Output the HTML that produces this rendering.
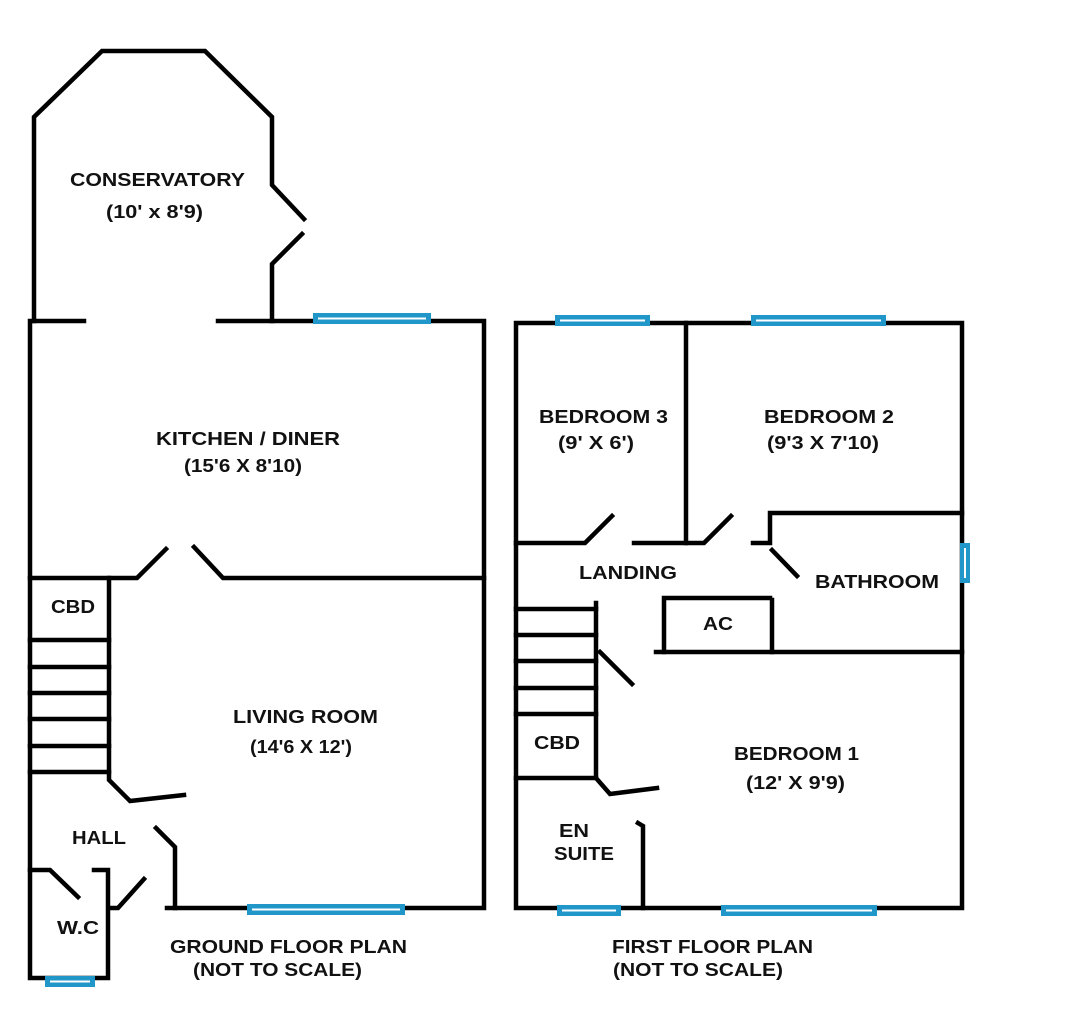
<!DOCTYPE html>
<html><head><meta charset="utf-8"><style>
html,body{margin:0;padding:0;background:#fff;}
svg{display:block}
text{font-family:"Liberation Sans",sans-serif;font-weight:bold;font-size:18px;fill:#111;}
</style></head><body>
<svg width="1090" height="1017" viewBox="0 0 1090 1017" xmlns="http://www.w3.org/2000/svg">
<g fill="none" stroke="#000" stroke-width="4.5" stroke-linecap="square" stroke-linejoin="miter">
<polyline points="34,321 34,117 102,51 205,51 272,117 272,185 304,219"/>
<polyline points="302,234 272,264 272,321"/>
<polyline points="84,321 30,321 30,978 108,978 108,870 94,870"/>
<polyline points="218,321 484,321 484,908 167,908"/>
<polyline points="30,578 137,578 166,549"/>
<polyline points="194,547 223,578 484,578"/>
<polyline points="109,578 109,780 130,801 184,795"/>
<line x1="30" y1="640" x2="109" y2="640"/>
<line x1="30" y1="667" x2="109" y2="667"/>
<line x1="30" y1="693" x2="109" y2="693"/>
<line x1="30" y1="719" x2="109" y2="719"/>
<line x1="30" y1="746" x2="109" y2="746"/>
<line x1="30" y1="772" x2="109" y2="772"/>
<polyline points="156,828 175,847 175,908"/>
<polyline points="30,870 50,870 78,897"/>
<polyline points="110,908 118,908 144,879"/>
<rect x="516" y="323" width="446" height="585"/>
<line x1="686" y1="323" x2="686" y2="543"/>
<polyline points="516,543 585,543 612,516"/>
<polyline points="634,543 704,543 731,516"/>
<polyline points="753,543 770,543 770,513 962,513"/>
<line x1="772" y1="550" x2="797" y2="576"/>
<polyline points="664,652 664,598 770,598"/>
<line x1="772" y1="600" x2="772" y2="652"/>
<line x1="656" y1="652" x2="962" y2="652"/>
<polyline points="596,603 596,778 610,794 657,788"/>
<line x1="516" y1="609" x2="596" y2="609"/>
<line x1="516" y1="635" x2="596" y2="635"/>
<line x1="516" y1="661" x2="596" y2="661"/>
<line x1="516" y1="688" x2="596" y2="688"/>
<line x1="516" y1="714" x2="596" y2="714"/>
<line x1="516" y1="778" x2="596" y2="778"/>
<line x1="600" y1="652" x2="632" y2="684"/>
<polyline points="638,823 643,826 643,908"/>
</g>
<g fill="#2196c9" stroke="none">
<rect x="313" y="313" width="118" height="11"/>
<rect x="247" y="904" width="158" height="11"/>
<rect x="45" y="976" width="50" height="11"/>
<rect x="555" y="315" width="95" height="11"/>
<rect x="751" y="315" width="135" height="11"/>
<rect x="557" y="905" width="64" height="11"/>
<rect x="721" y="905" width="156" height="11"/>
<rect x="960" y="543" width="10" height="40"/>
</g>
<g stroke="#fff" stroke-width="2">
<line x1="318" y1="318.5" x2="426" y2="318.5"/>
<line x1="252" y1="909.5" x2="400" y2="909.5"/>
<line x1="50" y1="981.5" x2="90" y2="981.5"/>
<line x1="560" y1="320.5" x2="645" y2="320.5"/>
<line x1="756" y1="320.5" x2="881" y2="320.5"/>
<line x1="562" y1="910.5" x2="616" y2="910.5"/>
<line x1="726" y1="910.5" x2="872" y2="910.5"/>
<line x1="965" y1="548" x2="965" y2="578"/>
</g>
<text x="70" y="186" textLength="175" lengthAdjust="spacingAndGlyphs">CONSERVATORY</text>
<text x="106" y="218" textLength="97" lengthAdjust="spacingAndGlyphs">(10' x 8'9)</text>
<text x="156" y="445" textLength="184" lengthAdjust="spacingAndGlyphs">KITCHEN / DINER</text>
<text x="184" y="472" textLength="118" lengthAdjust="spacingAndGlyphs">(15'6 X 8'10)</text>
<text x="51" y="613" textLength="44" lengthAdjust="spacingAndGlyphs">CBD</text>
<text x="233" y="723" textLength="145" lengthAdjust="spacingAndGlyphs">LIVING ROOM</text>
<text x="250" y="753" textLength="102" lengthAdjust="spacingAndGlyphs">(14'6 X 12')</text>
<text x="72" y="844" textLength="54" lengthAdjust="spacingAndGlyphs">HALL</text>
<text x="57" y="934" textLength="42" lengthAdjust="spacingAndGlyphs">W.C</text>
<text x="170" y="953" textLength="237" lengthAdjust="spacingAndGlyphs">GROUND FLOOR PLAN</text>
<text x="193" y="976" textLength="169" lengthAdjust="spacingAndGlyphs">(NOT TO SCALE)</text>
<text x="539" y="423" textLength="129" lengthAdjust="spacingAndGlyphs">BEDROOM 3</text>
<text x="558" y="449" textLength="76" lengthAdjust="spacingAndGlyphs">(9' X 6')</text>
<text x="764" y="423" textLength="130" lengthAdjust="spacingAndGlyphs">BEDROOM 2</text>
<text x="767" y="449" textLength="112" lengthAdjust="spacingAndGlyphs">(9'3 X 7'10)</text>
<text x="579" y="579" textLength="98" lengthAdjust="spacingAndGlyphs">LANDING</text>
<text x="815" y="588" textLength="124" lengthAdjust="spacingAndGlyphs">BATHROOM</text>
<text x="703" y="630" textLength="30" lengthAdjust="spacingAndGlyphs">AC</text>
<text x="534" y="749" textLength="46" lengthAdjust="spacingAndGlyphs">CBD</text>
<text x="734" y="760" textLength="125" lengthAdjust="spacingAndGlyphs">BEDROOM 1</text>
<text x="746" y="789" textLength="99" lengthAdjust="spacingAndGlyphs">(12' X 9'9)</text>
<text x="559" y="837" textLength="30" lengthAdjust="spacingAndGlyphs">EN</text>
<text x="554" y="860" textLength="60" lengthAdjust="spacingAndGlyphs">SUITE</text>
<text x="612" y="953" textLength="201" lengthAdjust="spacingAndGlyphs">FIRST FLOOR PLAN</text>
<text x="613" y="976" textLength="170" lengthAdjust="spacingAndGlyphs">(NOT TO SCALE)</text>
</svg>
</body></html>
